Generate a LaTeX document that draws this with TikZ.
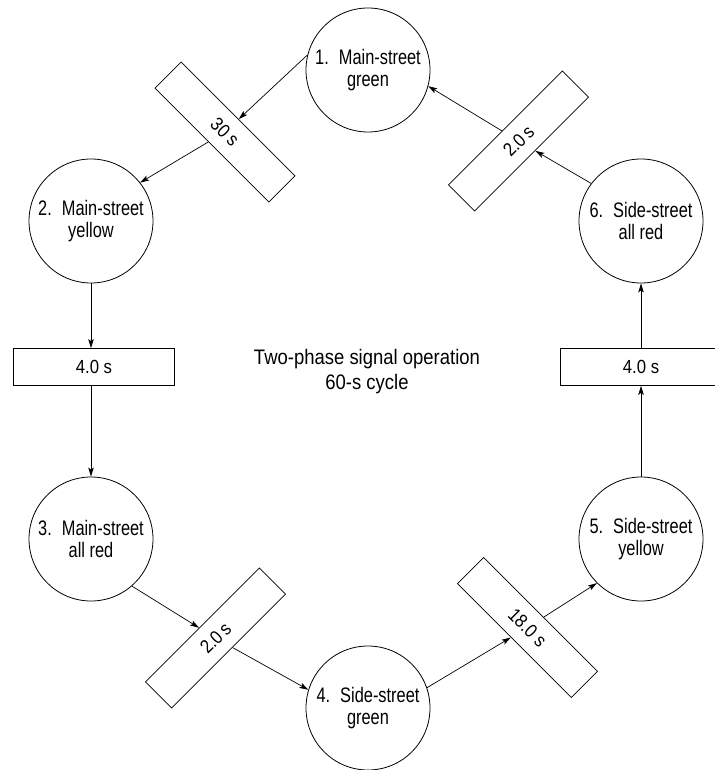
\documentclass[tikz,border=0pt]{standalone}
\usepackage{fontspec}
\setmainfont{Liberation Sans}
\newfontfamily\circfont[FakeStretch=0.78]{Liberation Sans}
\newfontfamily\boxfont[FakeStretch=0.88]{Liberation Sans}
\usetikzlibrary{arrows.meta}
\begin{document}
\begin{tikzpicture}[x=1pt,y=-1pt,
  state/.style={circle,draw,line width=0.8pt,minimum size=124pt,inner sep=0pt,align=center,
    font=\circfont\fontsize{21}{21.5}\selectfont},
  timebox/.style={rectangle,draw,line width=0.8pt,minimum width=161pt,minimum height=37pt,inner sep=0pt,
    font=\boxfont\fontsize{19}{20}\selectfont},
  flow/.style={line width=0.7pt,-{Stealth[length=9pt,width=5.5pt,inset=2pt]}}]
\useasboundingbox (0,0) rectangle (714,770);
\fill[white] (0,0) rectangle (714,770);
% states
\node[state] (c1) at (368,70)  {1.\hspace{10pt}Main-street\\green};
\node[state] (c2) at (91,221)  {2.\hspace{10pt}Main-street\\yellow};
\node[state] (c3) at (91,539)  {3.\hspace{10pt}Main-street\\all red};
\node[state] (c4) at (368,708) {4.\hspace{10pt}Side-street\\green};
\node[state] (c5) at (641,539) {5.\hspace{10pt}Side-street\\yellow};
\node[state] (c6) at (641,221) {6.\hspace{10pt}Side-street\\all red};
% interval boxes
\node[timebox,rotate=-45] (b1) at (225,132)   {30 s};
\node[timebox]            (b2) at (94,367)    {4.0 s};
\node[timebox,rotate=45]  (b3) at (215.5,638) {2.0\,s};
\node[timebox,rotate=-45] (b4) at (527.5,627.5) {18.0 s};
\node[timebox]            (b5) at (641,367)   {4.0 s};
\node[timebox,rotate=45]  (b6) at (518.5,141) {2.0\,s};
% centre label
\node[align=center,font=\boxfont\fontsize{21}{25}\selectfont] (title) at (367,372)
  {Two-phase signal operation\\60-s cycle};
% connectors
\draw[flow] (c1.166) -- (b1);
\draw[flow] (b1) -- (c2.38);
\draw[flow] (c2.south) -- (c2.south |- b2.north);
\draw[flow] (c3.north |- b2.south) -- (c3.north);
\draw[flow] (c3.-49.5) -- (b3);
\draw[flow] (b3) -- (c4.163.6);
\draw[flow] (c4.19.6) -- (b4);
\draw[flow] (b4) -- (c5.225.6);
\draw[flow] (c5.north) -- (c5.north |- b5.south);
\draw[flow] (c6.south |- b5.north) -- (c6.south);
\draw[flow] (c6.143.7) -- (b6);
\draw[flow] (b6) -- (c1.-15.8);
\end{tikzpicture}
\end{document}
